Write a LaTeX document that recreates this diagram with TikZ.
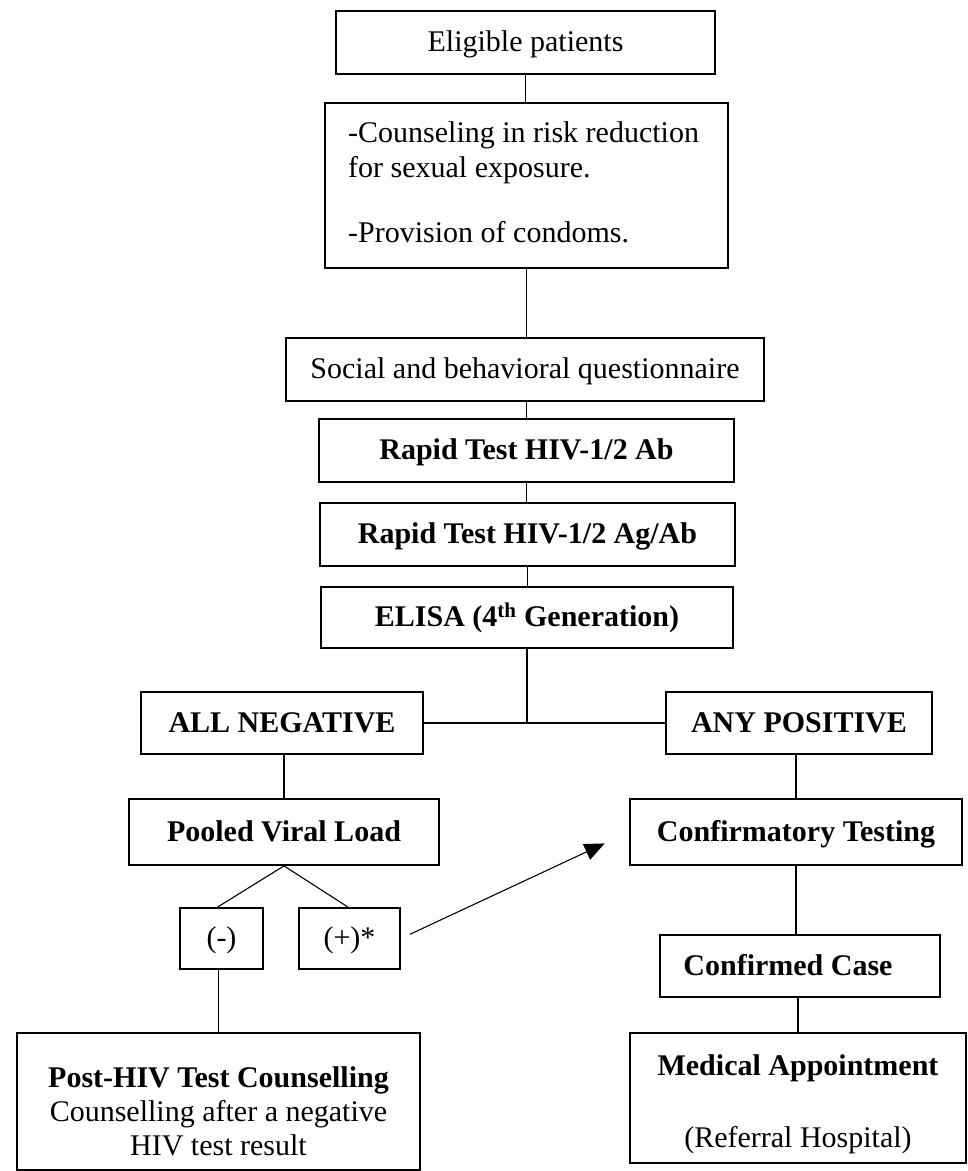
\documentclass[tikz,border=0pt]{standalone}
\usepackage{fontspec}
\setmainfont{Liberation Serif}
\usetikzlibrary{arrows.meta}
\begin{document}
\begin{tikzpicture}[x=1pt,y=-1pt,
  frame/.style={draw, line width=1.8pt, inner sep=0pt},
  box/.style={frame, text height=22pt, text depth=4pt, font=\fontsize{30}{35}\selectfont},
  bbox/.style={box, font=\fontsize{30}{35}\selectfont\bfseries},
  conn/.style={line width=1.1pt},
  txt/.style={inner sep=0pt, align=center}]
\useasboundingbox (0,0) rectangle (968,1171);
\fill[white] (0,0) rectangle (968,1171);

\node[box, minimum width=379pt, minimum height=63pt] (elig) at (525.5,42.5) {Eligible patients};
\node[frame, minimum width=403pt, minimum height=165pt] (couns) at (526.5,185.5) {};
\node[txt, align=left, anchor=north west, font=\fontsize{30}{35}\selectfont] (counstxt) at (348,121.5)
  {-Counseling in risk reduction\\for sexual exposure.\\[30pt]-Provision of condoms.};
\node[box, minimum width=478pt, minimum height=63pt] (social) at (525,369.5) {Social and behavioral questionnaire};
\node[bbox, minimum width=415pt, minimum height=63pt] (rab) at (526.5,450.5) {Rapid Test HIV-1/2 Ab};
\node[bbox, minimum width=415pt, minimum height=63pt] (ragab) at (527.5,534.5) {Rapid Test HIV-1/2 Ag/Ab};
\node[bbox, minimum width=412pt, minimum height=61pt] (elisa) at (527,617.5) {ELISA (4\textsuperscript{th} Generation)};
\node[bbox, minimum width=282pt, minimum height=62pt] (neg) at (282,723) {ALL NEGATIVE};
\node[bbox, minimum width=266pt, minimum height=62pt] (pos) at (799,723) {ANY POSITIVE};
\node[bbox, minimum width=310pt, minimum height=66pt] (pooled) at (284,832) {Pooled Viral Load};
\node[bbox, minimum width=332pt, minimum height=66pt] (confirm) at (796,832) {Confirmatory Testing};
\node[box, minimum width=83pt, minimum height=61pt] (minus) at (221.5,938.5) {(-)};
\node[box, minimum width=101pt, minimum height=61pt] (plus) at (349.5,938.5) {(+)*};
\node[bbox, minimum width=280pt, minimum height=62pt] (confd) at (800,966) {Confirmed Case\kern24pt};
\node[frame, minimum width=403pt, minimum height=137pt] (post) at (218.5,1101.5) {};
\node[txt, anchor=north, font=\fontsize{30}{34}\selectfont] (posttxt) at (218.5,1066)
  {\textbf{Post-HIV Test Counselling}\\Counselling after a negative\\HIV test result};
\node[frame, minimum width=336pt, minimum height=130pt] (med) at (798,1098) {};
\node[txt, anchor=north, font=\fontsize{30}{35}\selectfont] (medtxt) at (798,1054.5)
  {\textbf{Medical Appointment}\\[37pt](Referral Hospital)};

\draw[conn] (elig.south) -- (elig.south |- couns.north);
\draw[conn] (couns.south) -- (couns.south |- social.north);
\draw[conn] (social.south -| rab.north) -- (rab.north);
\draw[conn] (rab.south) -- (rab.south |- ragab.north);
\draw[conn] (ragab.south) -- (ragab.south |- elisa.north);
\draw[conn] (elisa.south) -- (elisa.south |- neg.east);
\draw[conn] (neg.east) -- (pos.west);
\draw[conn] (pooled.north |- neg.south) -- (pooled.north);
\draw[conn] (pos.south -| confirm.north) -- (confirm.north);
\draw[conn] (pooled.south) -- ([xshift=-4pt]minus.north);
\draw[conn] (pooled.south) -- ([xshift=-1.5pt]plus.north);
\draw[conn] ([xshift=-3pt]minus.south) -- ([xshift=-3pt]minus.south |- post.north);
\draw[conn, -{Triangle[length=20pt,width=17pt]}, shorten <=10pt, shorten >=27pt] (plus.east) -- (confirm.west);
\draw[conn] (confirm.south) -- (confirm.south |- confd.north);
\draw[conn] (confd.south -| med.north) -- (med.north);
\end{tikzpicture}
\end{document}
